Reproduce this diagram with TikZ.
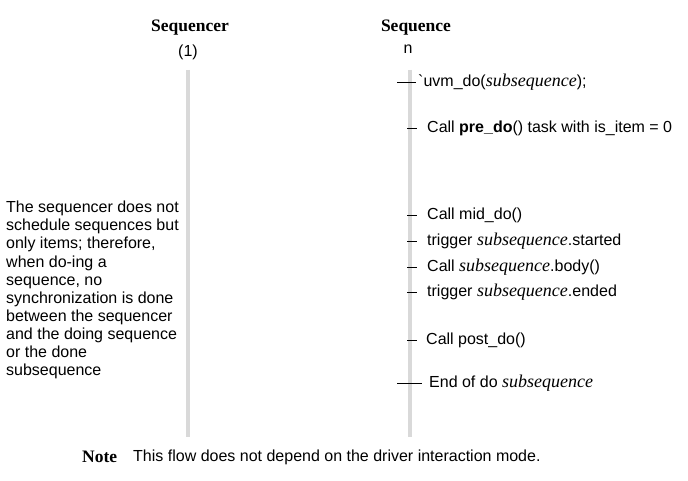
\documentclass[tikz,border=0pt]{standalone}
\usepackage{fontspec}
\setmainfont{Liberation Serif}
\setsansfont{Liberation Sans}
\newcommand{\ssz}{\fontsize{16}{18.1}\selectfont\sffamily}
\newcommand{\sub}{{\rmfamily\itshape\fontsize{18}{18}\selectfont subsequence}}
\begin{document}
\begin{tikzpicture}[x=1pt,y=-1pt,
  bar/.style={line width=4pt,draw={rgb,255:red,217;green,217;blue,217}},
  tick/.style={line width=0.8pt,draw=black},
  lbl/.style={anchor=west,inner sep=0pt,font=\ssz},
  hdr/.style={inner sep=0pt,font=\rmfamily\bfseries\fontsize{17.5}{18}\selectfont},
  sub/.style={inner sep=0pt,font=\ssz}]
\useasboundingbox (0,0) rectangle (688,481);
% bars
\coordinate (qtop) at (188,70); \coordinate (qbot) at (188,437);
\coordinate (stop) at (410,70); \coordinate (sbot) at (410,437);
\draw[bar] (qtop) -- (qbot);
\draw[bar] (stop) -- (sbot);
% headers
\node[hdr] (h1) at (190,28) {Sequencer};
\node[sub] (h1s) at (188,52) {(1)};
\node[hdr] (h2) at (416,28) {Sequence};
\node[sub] (h2s) at (408,49) {n};
% labels
\node[lbl] (l1) at (418,82) {\textasciigrave uvm\_do(\sub);};
\node[lbl] (l2) at (427,128) {Call \textbf{pre\_do}() task with is\_item = 0};
\node[lbl] (l3) at (427,215) {Call mid\_do()};
\node[lbl] (l4) at (427,241) {trigger \sub.started};
\node[lbl] (l5) at (427,267) {Call \sub.body()};
\node[lbl] (l6) at (427,292) {trigger \sub.ended};
\node[lbl] (l7) at (426,340) {Call post\_do()};
\node[lbl] (l8) at (429,383) {End of do \sub};
% ticks
\coordinate (t1) at (397,82); \coordinate (t2) at (407,128);
\coordinate (t3) at (407,215); \coordinate (t4) at (407,241);
\coordinate (t5) at (407,267); \coordinate (t6) at (407,292);
\coordinate (t7) at (407,340); \coordinate (t8) at (397,383);
\draw[tick] (t1) -- ([xshift=-2pt]l1.west);
\draw[tick] (t2) -- ([xshift=-10pt]l2.west);
\draw[tick] (t3) -- ([xshift=-10pt]l3.west);
\draw[tick] (t4) -- ([xshift=-10pt]l4.west);
\draw[tick] (t5) -- ([xshift=-10pt]l5.west);
\draw[tick] (t6) -- ([xshift=-10pt]l6.west);
\draw[tick] (t7) -- ([xshift=-9pt]l7.west);
\draw[tick] (t8) -- ([xshift=-7pt]l8.west);
% left text
\node[anchor=north west,inner sep=0pt,align=left,font=\ssz] (note1) at (6,201)
{The sequencer does not\\schedule sequences but\\only items; therefore,\\when do-ing a\\sequence, no\\synchronization is done\\between the sequencer\\and the doing sequence\\or the done\\subsequence};
% note
\node[anchor=west,inner sep=0pt,font=\rmfamily\bfseries\fontsize{17.5}{18}\selectfont] (nt) at (82,457) {Note};
\node[anchor=west,inner sep=0pt,font=\ssz] (ntt) at (133,457) {This flow does not depend on the driver interaction mode.};
\end{tikzpicture}
\end{document}
